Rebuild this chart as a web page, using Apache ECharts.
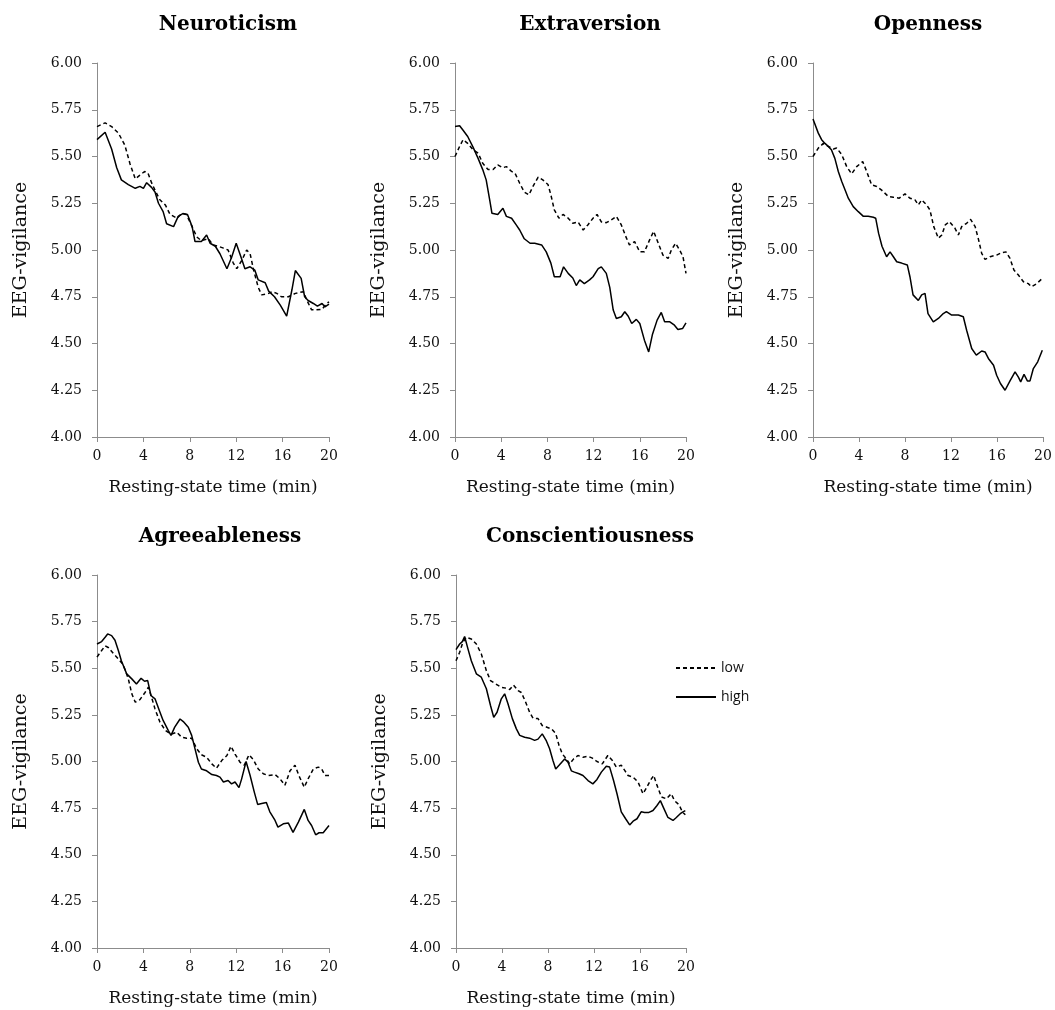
<!DOCTYPE html>
<html>
<head>
<meta charset="utf-8">
<script src="https://cdn.jsdelivr.net/npm/echarts@6/dist/echarts.min.js"></script>
<style>
html, body { margin: 0; padding: 0; background: #fff; }
#chart { width: 1055px; height: 1010px; }
</style>
</head>
<body>
<div id="chart"></div>
<script>
// [time (min), EEG-vigilance]
const neuroticismHigh = [[0,5.59],[0.7,5.63],[1.26,5.54],[1.7,5.44],[2.1,5.375],[2.7,5.35],[3.3,5.33],[3.7,5.34],[4.0,5.33],[4.28,5.36],[4.7,5.335],[5.0,5.31],[5.3,5.25],[5.7,5.205],[6.0,5.14],[6.6,5.125],[6.7,5.116],[7.0,5.18],[7.4,5.195],[7.8,5.19],[8.2,5.125],[8.45,5.045],[9.0,5.045],[9.45,5.08],[9.75,5.036],[10.2,5.02],[10.6,4.98],[11.2,4.9],[11.6,4.96],[12.0,5.036],[12.5,4.946],[12.75,4.9],[13.2,4.91],[13.6,4.893],[13.9,4.84],[14.5,4.825],[14.8,4.78],[15.3,4.75],[15.8,4.705],[16.35,4.646],[16.8,4.786],[17.1,4.89],[17.6,4.848],[17.9,4.75],[18.2,4.73],[18.65,4.714],[19.0,4.7],[19.4,4.714],[19.65,4.696],[20,4.71]]
const neuroticismLow = [[0,5.66],[0.7,5.68],[1.26,5.66],[1.85,5.625],[2.4,5.56],[2.85,5.46],[3.3,5.38],[3.7,5.4],[4.1,5.42],[4.4,5.41],[4.7,5.36],[5.0,5.32],[5.4,5.27],[5.9,5.24],[6.3,5.19],[6.9,5.17],[7.3,5.195],[7.7,5.19],[8.2,5.125],[8.6,5.07],[9.0,5.05],[9.6,5.06],[10.0,5.027],[10.45,5.02],[10.9,5.01],[11.3,5.0],[11.75,4.93],[12.05,4.9],[12.5,4.946],[12.9,5.0],[13.2,4.98],[13.5,4.893],[13.9,4.8],[14.2,4.76],[14.8,4.768],[15.1,4.777],[15.5,4.768],[15.9,4.75],[16.5,4.75],[17.1,4.768],[17.8,4.777],[18.1,4.73],[18.5,4.68],[18.9,4.68],[19.4,4.683],[19.8,4.714],[20,4.723]]

const extraversionHigh = [[0,5.66],[0.4,5.664],[0.7,5.64],[1.1,5.607],[1.56,5.55],[2.0,5.49],[2.4,5.43],[2.7,5.375],[3.0,5.27],[3.2,5.196],[3.7,5.19],[4.15,5.223],[4.45,5.18],[4.9,5.17],[5.3,5.134],[5.6,5.107],[6.0,5.06],[6.5,5.036],[6.9,5.036],[7.5,5.027],[7.9,4.99],[8.3,4.93],[8.6,4.857],[9.1,4.857],[9.4,4.91],[9.8,4.875],[10.2,4.85],[10.5,4.81],[10.8,4.84],[11.2,4.82],[11.65,4.84],[11.95,4.857],[12.4,4.9],[12.67,4.91],[13.1,4.875],[13.4,4.8],[13.7,4.679],[13.97,4.634],[14.4,4.643],[14.7,4.67],[15.0,4.646],[15.3,4.607],[15.7,4.629],[16.0,4.607],[16.4,4.518],[16.77,4.455],[17.1,4.55],[17.5,4.625],[17.86,4.666],[18.15,4.616],[18.6,4.616],[19.0,4.598],[19.3,4.575],[19.7,4.58],[20,4.61]]
const extraversionLow = [[0,5.5],[0.4,5.554],[0.7,5.59],[1.1,5.57],[1.56,5.536],[2.0,5.518],[2.4,5.464],[2.86,5.43],[3.3,5.43],[3.7,5.455],[4.15,5.44],[4.45,5.446],[4.9,5.42],[5.2,5.41],[5.6,5.357],[6.0,5.31],[6.4,5.295],[6.75,5.34],[7.2,5.39],[7.6,5.375],[8.05,5.35],[8.3,5.295],[8.6,5.214],[9.0,5.17],[9.35,5.19],[9.8,5.17],[10.2,5.143],[10.65,5.15],[11.1,5.107],[11.5,5.134],[11.95,5.17],[12.3,5.19],[12.67,5.15],[13.1,5.146],[13.5,5.16],[13.97,5.18],[14.4,5.134],[14.8,5.07],[15.1,5.027],[15.55,5.045],[16.0,4.99],[16.4,4.99],[16.85,5.054],[17.2,5.1],[17.6,5.036],[18.0,4.973],[18.45,4.955],[18.73,5.0],[19.1,5.036],[19.45,5.0],[19.74,4.964],[20,4.875]]

const opennessHigh = [[0,5.7],[0.46,5.625],[0.75,5.59],[1.04,5.57],[1.33,5.554],[1.6,5.536],[1.9,5.49],[2.2,5.42],[2.5,5.366],[2.8,5.32],[3.07,5.277],[3.5,5.232],[3.94,5.205],[4.38,5.18],[4.8,5.18],[5.25,5.175],[5.45,5.17],[5.7,5.09],[6.0,5.02],[6.4,4.964],[6.7,4.99],[6.99,4.964],[7.28,4.937],[7.7,4.93],[8.2,4.92],[8.43,4.857],[8.7,4.76],[9.16,4.73],[9.45,4.76],[9.74,4.768],[10.0,4.66],[10.46,4.616],[10.9,4.634],[11.33,4.66],[11.6,4.67],[12.06,4.652],[12.64,4.652],[13.07,4.643],[13.36,4.571],[13.8,4.473],[14.2,4.438],[14.67,4.46],[14.96,4.455],[15.25,4.42],[15.7,4.384],[15.97,4.33],[16.3,4.286],[16.7,4.25],[17.13,4.3],[17.57,4.348],[17.86,4.32],[18.06,4.295],[18.35,4.335],[18.64,4.3],[18.87,4.3],[19.16,4.366],[19.54,4.402],[19.94,4.464]]
const opennessLow = [[0,5.5],[0.46,5.545],[0.9,5.57],[1.33,5.554],[1.77,5.54],[2.06,5.545],[2.5,5.51],[2.93,5.446],[3.36,5.407],[3.8,5.446],[4.32,5.473],[4.67,5.42],[5.1,5.348],[5.54,5.34],[5.97,5.32],[6.55,5.286],[6.99,5.282],[7.5,5.277],[8.0,5.3],[8.43,5.277],[8.87,5.268],[9.16,5.241],[9.45,5.268],[9.88,5.241],[10.17,5.214],[10.5,5.125],[10.9,5.063],[11.2,5.08],[11.5,5.134],[11.86,5.152],[12.35,5.116],[12.64,5.08],[12.93,5.125],[13.36,5.143],[13.7,5.164],[14.1,5.125],[14.4,5.054],[14.67,4.982],[14.96,4.95],[15.4,4.964],[15.97,4.973],[16.4,4.986],[16.78,4.99],[17.13,4.955],[17.47,4.893],[17.86,4.866],[18.3,4.83],[18.72,4.82],[19.0,4.804],[19.45,4.82],[19.94,4.848]]

const agreeablenessHigh = [[0,5.63],[0.4,5.643],[0.7,5.666],[0.92,5.684],[1.26,5.675],[1.55,5.65],[1.84,5.595],[2.1,5.54],[2.56,5.47],[3.0,5.443],[3.4,5.416],[3.8,5.446],[4.1,5.43],[4.37,5.434],[4.65,5.354],[5.0,5.336],[5.43,5.264],[5.7,5.22],[6.15,5.166],[6.38,5.14],[6.7,5.184],[7.16,5.228],[7.44,5.214],[7.87,5.184],[8.16,5.14],[8.45,5.068],[8.74,4.996],[9.0,4.96],[9.45,4.95],[9.9,4.93],[10.3,4.925],[10.6,4.916],[10.9,4.89],[11.3,4.898],[11.6,4.88],[11.9,4.89],[12.24,4.86],[12.47,4.907],[12.85,5.0],[13.2,4.925],[13.56,4.836],[13.85,4.77],[14.2,4.775],[14.6,4.78],[14.9,4.73],[15.35,4.684],[15.6,4.648],[16.06,4.666],[16.5,4.67],[16.9,4.62],[17.36,4.675],[17.87,4.743],[18.2,4.684],[18.5,4.657],[18.85,4.607],[19.14,4.618],[19.5,4.618],[20,4.657]]
const agreeablenessLow = [[0,5.56],[0.4,5.595],[0.7,5.62],[1.0,5.61],[1.4,5.58],[1.84,5.55],[2.27,5.518],[2.7,5.443],[3.0,5.363],[3.3,5.318],[3.7,5.332],[4.14,5.37],[4.43,5.398],[4.7,5.345],[5.0,5.282],[5.43,5.21],[5.9,5.166],[6.38,5.146],[6.87,5.157],[7.3,5.13],[7.73,5.125],[8.16,5.125],[8.6,5.068],[9.0,5.036],[9.45,5.023],[9.9,4.987],[10.3,4.964],[10.75,5.005],[11.2,5.032],[11.55,5.082],[11.9,5.04],[12.33,4.996],[12.7,4.98],[13.1,5.036],[13.48,5.01],[13.9,4.96],[14.34,4.934],[14.77,4.925],[15.35,4.93],[15.78,4.907],[16.2,4.872],[16.64,4.95],[17.07,4.98],[17.4,4.925],[17.87,4.862],[18.2,4.907],[18.65,4.96],[19.08,4.97],[19.37,4.96],[19.65,4.925],[20,4.925]]

const conscientiousnessHigh = [[0,5.6],[0.32,5.63],[0.55,5.643],[0.75,5.67],[1.04,5.604],[1.33,5.54],[1.77,5.47],[2.2,5.452],[2.64,5.39],[3.0,5.3],[3.28,5.237],[3.57,5.264],[3.94,5.336],[4.23,5.363],[4.52,5.31],[4.9,5.23],[5.25,5.175],[5.54,5.14],[5.97,5.13],[6.4,5.125],[6.84,5.113],[7.13,5.12],[7.5,5.148],[7.86,5.11],[8.14,5.068],[8.43,5.005],[8.67,4.96],[9.0,4.982],[9.45,5.014],[9.74,4.996],[10.03,4.95],[10.3,4.943],[10.7,4.934],[11.04,4.925],[11.48,4.898],[11.9,4.88],[12.26,4.904],[12.64,4.943],[13.07,4.975],[13.36,4.97],[13.7,4.898],[14.0,4.827],[14.37,4.73],[14.75,4.693],[15.1,4.66],[15.4,4.68],[15.74,4.693],[16.1,4.73],[16.4,4.727],[16.78,4.727],[17.13,4.737],[17.48,4.764],[17.77,4.79],[18.06,4.75],[18.43,4.7],[18.87,4.684],[19.16,4.7],[19.5,4.72],[19.74,4.73],[19.94,4.737]]
const conscientiousnessLow = [[0,5.54],[0.32,5.586],[0.6,5.64],[0.9,5.666],[1.33,5.657],[1.77,5.63],[2.2,5.577],[2.64,5.487],[3.0,5.434],[3.45,5.416],[3.94,5.398],[4.38,5.393],[4.67,5.386],[5.0,5.41],[5.4,5.38],[5.68,5.37],[6.06,5.318],[6.4,5.264],[6.7,5.232],[7.13,5.23],[7.5,5.193],[7.9,5.184],[8.3,5.175],[8.67,5.15],[8.96,5.086],[9.25,5.04],[9.6,5.014],[9.88,4.987],[10.23,5.014],[10.6,5.032],[11.04,5.023],[11.48,5.028],[11.86,5.018],[12.26,5.0],[12.72,4.987],[13.2,5.032],[13.6,5.005],[13.94,4.97],[14.37,4.98],[14.67,4.952],[14.96,4.925],[15.4,4.916],[15.83,4.89],[16.26,4.827],[16.55,4.857],[16.9,4.898],[17.19,4.925],[17.48,4.872],[17.86,4.81],[18.3,4.8],[18.72,4.827],[19.0,4.79],[19.4,4.768],[19.68,4.73],[19.94,4.714]]

const traits = ['Neuroticism', 'Extraversion', 'Openness', 'Agreeableness', 'Conscientiousness']
const lowSeries = [neuroticismLow, extraversionLow, opennessLow, agreeablenessLow, conscientiousnessLow]
const highSeries = [neuroticismHigh, extraversionHigh, opennessHigh, agreeablenessHigh, conscientiousnessHigh]

// pixel boxes of the five plot areas
const boxes = [
  { left: 97, top: 63, width: 232, height: 374, titleX: 228 },
  { left: 455, top: 63, width: 231, height: 374, titleX: 590 },
  { left: 813, top: 63, width: 230, height: 374, titleX: 928 },
  { left: 97, top: 575, width: 232, height: 373, titleX: 220 },
  { left: 456, top: 575, width: 230, height: 373, titleX: 590 }
]

const serif = 'DejaVu Serif'
const axisGray = '#8c8c8c'

const grid = [], xAxis = [], yAxis = [], series = [], graphic = []
boxes.forEach((b, i) => {
  grid.push({ left: b.left, top: b.top, width: b.width, height: b.height })
  xAxis.push({
    type: 'value', gridIndex: i, min: 0, max: 20, interval: 4,
    name: 'Resting-state time (min)', nameLocation: 'middle', nameGap: 42,
    nameTextStyle: { fontFamily: serif, fontSize: 17, color: '#111' },
    axisLine: { lineStyle: { color: axisGray, width: 1 } },
    axisTick: { length: 5, lineStyle: { color: axisGray } },
    axisLabel: { margin: 12, fontFamily: serif, fontSize: 14, color: '#111' },
    splitLine: { show: false }
  })
  yAxis.push({
    type: 'value', gridIndex: i, min: 4, max: 6, interval: 0.25,
    name: 'EEG-vigilance', nameLocation: 'middle', nameGap: 66, nameRotate: 90,
    nameTextStyle: { fontFamily: serif, fontSize: 19, color: '#111' },
    axisLine: { show: true, lineStyle: { color: axisGray, width: 1 } },
    axisTick: { show: true, length: 5, lineStyle: { color: axisGray } },
    axisLabel: { margin: 15, fontFamily: serif, fontSize: 14, color: '#111',
      formatter: v => v.toFixed(2) },
    splitLine: { show: false }
  })
  series.push({
    name: 'low', type: 'line', xAxisIndex: i, yAxisIndex: i,
    data: lowSeries[i], symbol: 'none', silent: true,
    itemStyle: { color: '#000' },
    lineStyle: { color: '#000', width: 1.5, type: [4, 3] }
  })
  series.push({
    name: 'high', type: 'line', xAxisIndex: i, yAxisIndex: i,
    data: highSeries[i], symbol: 'none', silent: true,
    itemStyle: { color: '#000' },
    lineStyle: { color: '#000', width: 1.5, type: 'solid' }
  })
  graphic.push({
    type: 'text', x: b.titleX, y: b.top - 38,
    style: { text: traits[i], align: 'center', verticalAlign: 'middle',
      font: 'bold 20px "DejaVu Serif"', fill: '#000' }
  })
})

const chart = echarts.init(document.getElementById('chart'))
chart.setOption({
  backgroundColor: '#fff',
  animation: false,
  grid: grid,
  xAxis: xAxis,
  yAxis: yAxis,
  series: series,
  graphic: graphic,
  legend: {
    data: ['low', 'high'],
    orient: 'vertical',
    left: 670, top: 656,
    itemWidth: 40, itemHeight: 14, itemGap: 15,
    itemStyle: { opacity: 0 },
    textStyle: { fontFamily: 'Open Sans', fontSize: 14, color: '#111' }
  }
})
</script>
</body>
</html>
